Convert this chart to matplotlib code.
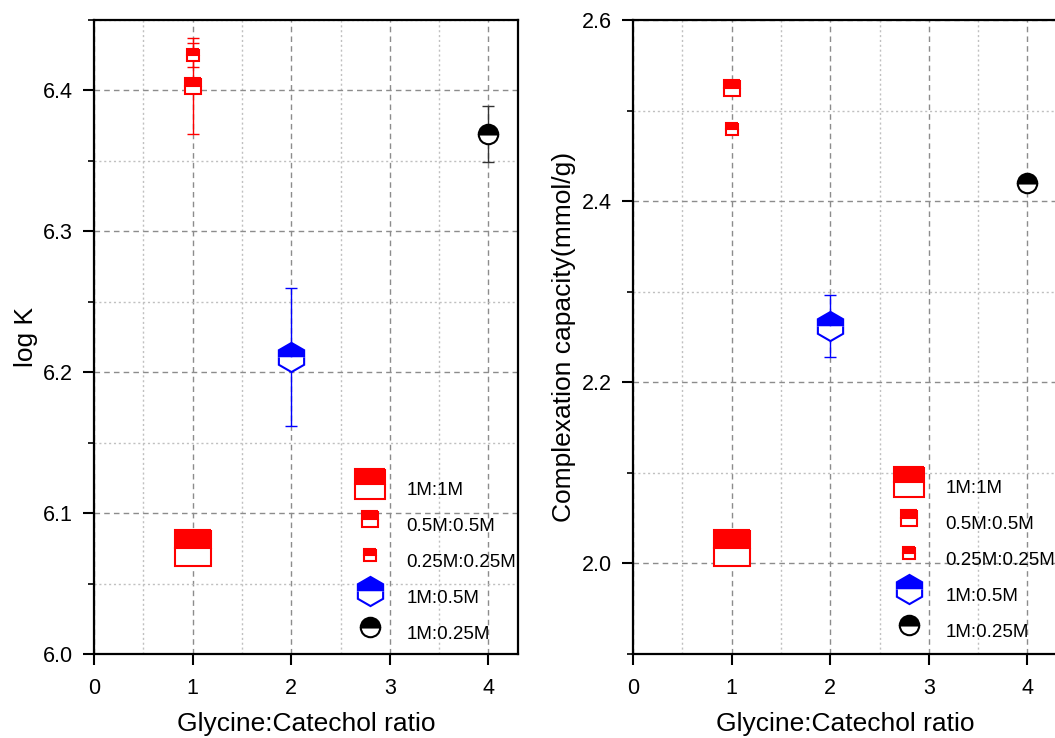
import matplotlib
matplotlib.use('Agg')
import matplotlib.pyplot as plt
from matplotlib.lines import Line2D
from matplotlib.ticker import MultipleLocator, FormatStrFormatter
from matplotlib.transforms import Affine2D

plt.rcParams['font.family'] = ['Liberation Sans', 'DejaVu Sans']

# ratio of glycine to catechol for each sample
ratio = [1, 1, 1, 2, 4]
labels = ['1M:1M', '0.5M:0.5M', '0.25M:0.25M', '1M:0.5M', '1M:0.25M']

logk = [6.075, 6.403, 6.425, 6.211, 6.369]
logk_err = [0.005, 0.034, 0.0085, 0.049, 0.02]

capacity = [2.017, 2.525, 2.48, 2.262, 2.42]
capacity_err = [0.017, 0.005, 0.005, 0.034, 0.005]

markers = ['s', 's', 's', 'h', 'o']
colors = ['#ff0000', '#ff0000', '#ff0000', '#0000ff', '#000000']
sizes = [26, 11.5, 8.5, 21, 14]
legend_sizes = [22, 11.5, 8.5, 21, 14]


def style_axes(ax, ylim, ymajor, yminor):
    ax.set_xlim(0, 4.3)
    ax.set_ylim(*ylim)
    ax.xaxis.set_major_locator(MultipleLocator(1))
    ax.xaxis.set_minor_locator(MultipleLocator(0.5))
    ax.yaxis.set_major_locator(MultipleLocator(ymajor))
    ax.yaxis.set_minor_locator(MultipleLocator(yminor))
    ax.grid(which='major', linestyle=(0, (4, 3)), color='#8c8c8c', lw=1.0)
    ax.grid(which='minor', linestyle=(0, (1.5, 2)), color='#c0c0c0', lw=1.0)
    ax.set_axisbelow(True)
    ax.tick_params(which='major', direction='out', length=8, width=1.5,
                   labelsize=15.5, top=False, right=False)
    ax.tick_params(which='minor', direction='out', length=4, width=1.2,
                   top=False, right=False)
    ax.tick_params(axis='x', which='major', pad=9)
    ax.tick_params(axis='y', which='major', pad=7)
    ax.tick_params(axis='x', which='minor', length=0)
    for s in ax.spines.values():
        s.set_linewidth(1.6)
    ax.set_xlabel('Glycine:Catechol ratio', fontsize=19, labelpad=9.5)


def draw(ax, yvals, yerrs):
    for x, y, e, m, c, ms in zip(ratio, yvals, yerrs, markers, colors, sizes):
        ecol = '#333333' if c == '#000000' else c
        ax.errorbar(x, y, yerr=e, fmt='none', ecolor=ecol, elinewidth=1.0,
                    capsize=4.5, capthick=1.0, zorder=3)
        ax.plot(x, y, marker=m, markersize=ms, color=c, fillstyle='top',
                markerfacecoloralt='white', markeredgecolor=c,
                markeredgewidth=1.5, linestyle='none', zorder=4)


def add_legend(ax, anchor):
    handles = [Line2D([], [], marker=m, markersize=ms, color=c,
                      fillstyle='top', markerfacecoloralt='white',
                      markeredgecolor=c, markeredgewidth=1.5, linestyle='none')
               for m, c, ms in zip(markers, colors, legend_sizes)]
    leg = ax.legend(handles, labels, loc='upper left', bbox_to_anchor=anchor,
                    frameon=False, fontsize=13.5, labelspacing=1.0,
                    handletextpad=1.15, handlelength=1.6, borderpad=0)
    # labels sit a little below their symbols
    for t in leg.get_texts():
        t.set_transform(t.get_transform() + Affine2D().translate(0, -5))


fig = plt.figure(figsize=(10.55, 7.38), dpi=100)
ax1 = fig.add_axes([0.0891, 0.1138, 0.4019, 0.8591])
ax2 = fig.add_axes([0.6, 0.1138, 0.4019, 0.8591])

draw(ax1, logk, logk_err)
style_axes(ax1, (6.0, 6.45), 0.1, 0.05)
ax1.yaxis.set_major_formatter(FormatStrFormatter('%.1f'))
ax1.set_ylabel('log K', fontsize=19, labelpad=3.5)
add_legend(ax1, (0.593, 0.294))

draw(ax2, capacity, capacity_err)
style_axes(ax2, (1.9, 2.6), 0.2, 0.1)
ax2.set_yticks([2.0, 2.2, 2.4, 2.6])
ax2.yaxis.set_major_formatter(FormatStrFormatter('%.1f'))
ax2.set_ylabel('Complexation capacity(mmol/g)', fontsize=19, labelpad=4)
add_legend(ax2, (0.593, 0.297))

fig.savefig('out.png', dpi=100)
